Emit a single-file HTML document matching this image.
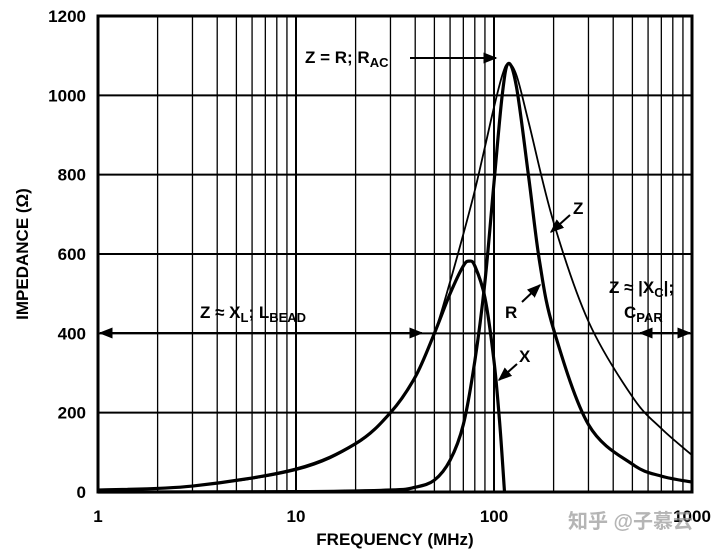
<!DOCTYPE html>
<html><head><meta charset="utf-8"><style>
body{margin:0;background:#fff}
svg text{font-family:"Liberation Sans","Noto Sans CJK SC",sans-serif;font-weight:bold}
</style></head><body>
<svg id="c" width="720" height="553" viewBox="0 0 720 553" xmlns="http://www.w3.org/2000/svg">
<defs><marker id="ah" viewBox="0 0 10 10" refX="9" refY="5" markerWidth="7" markerHeight="7" orient="auto-start-reverse"><path d="M0,1 L10,5 L0,9 z" fill="#000"/></marker></defs>
<g id="grid"></g>
<g id="curves"></g>
<g id="labels"></g>
</svg>
<script>
const yTicks=[0,200,400,600,800,1000,1200];
const xTickLabels=[1,10,100,1000];
const zFreq=[1,3,10,20,30,40,50,60,70,80,90,100,110,118,130,150,200,300,500,700,1000];
const zVals=[5,15,55,120,200,290,400,530,650,760,870,970,1050,1080,1050,930,680,430,240,160,93];
const xFreq=[1,3,10,20,30,40,50,60,70,75,80,90,100,107,113];
const xVals=[5,15,58,122,200,290,400,500,570,582,570,490,330,170,0];
const rFreq=[1,10,30,40,50,60,70,80,90,100,110,118,130,150,170,200,300,500,700,1000];
const rVals=[0,1,5,12,30,80,170,330,530,780,1000,1080,1020,790,580,410,170,70,40,25];
const L=98,R=692,T=16,B=492;
const sx=f=>L+Math.log10(f)/3*(R-L);
const sy=v=>B-v/1200*(B-T);
const NS='http://www.w3.org/2000/svg';
function mk(t,a,p){const e=document.createElementNS(NS,t);for(const k in a)e.setAttribute(k,a[k]);p.appendChild(e);return e;}
const g=document.getElementById('grid'),cv=document.getElementById('curves'),lb=document.getElementById('labels');
for(let d=0;d<3;d++)for(let m=1;m<10;m++){const f=Math.pow(10,d)*m;const x=sx(f);
 const ln=mk('line',{x1:x,x2:x,y1:T,y2:B,stroke:'#000','stroke-width':m==1?2:1.3},g);
 }
yTicks.forEach(v=>{const ln=mk('line',{x1:L,x2:R,y1:sy(v),y2:sy(v),stroke:'#000','stroke-width':2},g);
 
 const t=mk('text',{x:L-12,y:sy(v)+6,'text-anchor':'end','font-size':17},lb);t.textContent=v;
 });
const fr=mk('rect',{x:L,y:T,width:R-L,height:B-T,fill:'none',stroke:'#000','stroke-width':3},g);

xTickLabels.forEach(f=>{const t=mk('text',{x:sx(f),y:522,'text-anchor':'middle','font-size':17},lb);t.textContent=f;
 });
function path(fs,vs){const p=fs.map((f,i)=>[sx(f),sy(vs[i])]);let d='M'+p[0][0]+','+p[0][1];
 for(let i=0;i<p.length-1;i++){const p0=p[Math.max(0,i-1)],p1=p[i],p2=p[i+1],p3=p[Math.min(p.length-1,i+2)];
 d+=' C'+(p1[0]+(p2[0]-p0[0])/6)+','+(p1[1]+(p2[1]-p0[1])/6)+' '+(p2[0]-(p3[0]-p1[0])/6)+','+(p2[1]-(p3[1]-p1[1])/6)+' '+p2[0]+','+p2[1];}return d;}
let e=mk('path',{d:path(zFreq,zVals),fill:'none',stroke:'#000','stroke-width':1.8},cv);
e=mk('path',{d:path(xFreq,xVals),fill:'none',stroke:'#000','stroke-width':3.2},cv);
e=mk('path',{d:path(rFreq,rVals),fill:'none',stroke:'#000','stroke-width':3.2},cv);
function arrow(x1,y1,x2,y2,both,name){const a=mk('line',{x1,y1,x2,y2,stroke:'#000','stroke-width':2,'marker-end':'url(#ah)'},lb);if(both)a.setAttribute('marker-start','url(#ah)');
 }
arrow(L+2,333,422,333,true,'lbead-arrow');
arrow(640,333,690,333,true,'cpar-arrow');
arrow(410,58,496,58,false,'rac-arrow');
arrow(570,215,551,232,false,'z-arrow');
arrow(522,302,540,285,false,'r-arrow');
arrow(517,364,499,380,false,'x-arrow');
function txt(x,y,html,size,name,anchor,fill){const t=mk('text',{x,y,'font-size':size||17,'text-anchor':anchor||'start',fill:fill||'#000'},lb);t.innerHTML=html;return t;}
txt(305,63,'Z = R; R<tspan dy="4" font-size="13">AC</tspan>',17,'rac-label');
txt(200,318,'Z ≈ X<tspan dy="4" font-size="13">L</tspan><tspan dy="-4">; L</tspan><tspan dy="4" font-size="13">BEAD</tspan>',17,'lbead-label');
txt(609,293,'Z ≈ |X<tspan dy="4" font-size="13">C</tspan><tspan dy="-4">|;</tspan>',17,'xc-label');
txt(624,318,'C<tspan dy="4" font-size="13">PAR</tspan>',17,'cpar-label');
txt(573,214,'Z',17,'z-label');
txt(505,318,'R',17,'r-label');
txt(519,362,'X',17,'x-label');
txt(395,545,'FREQUENCY (MHz)',17,'x-axis-title','middle');
const yt=txt(0,0,'IMPEDANCE (Ω)',17,'y-axis-title','middle');yt.setAttribute('transform','translate(28,254) rotate(-90)');
const wm=txt(568,528,'知乎 @子慕云',20,'watermark','start','rgba(150,150,150,0.7)');wm.setAttribute('font-weight','normal');
</script>
</body></html>
